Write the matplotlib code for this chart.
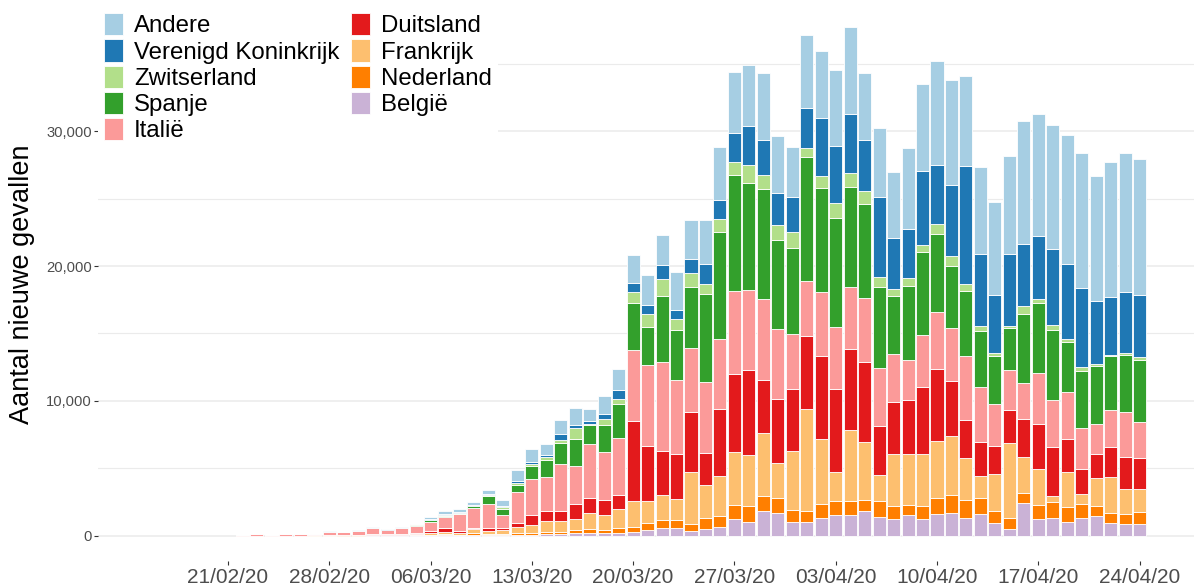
import matplotlib
matplotlib.use("Agg")
import matplotlib.pyplot as plt
import matplotlib.dates as mdates
import matplotlib.ticker as mticker
from matplotlib.patches import Patch
import numpy as np
import pandas as pd

plt.rcParams['font.family'] = ['Liberation Sans', 'DejaVu Sans']

dates = pd.date_range("2020-02-22", "2020-04-24", freq="D")

belgie = [0, 0, 0, 0, 0, 0, 0, 0, 0, 5, 5, 10, 15, 30, 50, 25, 74, 50, 50, 74, 74, 124,
          124, 223, 223, 173, 223, 272, 421, 545, 545, 347, 495, 619, 1239, 991, 1833, 1709, 1040,
          1016, 1338, 1536, 1560, 1808, 1387, 1263, 1536, 1214, 1585, 1709, 1338, 1610, 916, 495,
          2403, 1214, 1338, 1016, 1288, 1461, 916, 892, 867]
nederland = [0, 0, 0, 0, 0, 1, 1, 5, 5, 8, 5, 15, 10, 40, 74, 25, 99, 99, 74, 99, 124, 173,
             173, 198, 248, 248, 347, 396, 545, 619, 619, 520, 793, 867, 1040, 1214, 1139, 1065, 867,
             842, 991, 1040, 1016, 842, 1214, 966, 743, 966, 1189, 1288, 1313, 1164, 941, 842,
             743, 1065, 1189, 1139, 1040, 743, 743, 718, 892]
frankrijk = [0, 0, 0, 0, 2, 10, 20, 30, 30, 45, 40, 50, 100, 130, 173, 124, 297, 198, 322, 471, 570, 817,
             793, 817, 1189, 1115, 1387, 1883, 1635, 1858, 1536, 3815, 2477, 2948, 3914, 3790, 4632, 2601, 4384,
             7555, 4855, 2105, 5226, 4285, 1883, 3839, 3740, 3839, 4260, 4360, 3096, 1610, 2675, 5499,
             2650, 2650, 396, 2576, 793, 2056, 2675, 1833, 1660]
duitsland = [0, 0, 0, 0, 0, 5, 25, 5, 30, 25, 30, 40, 70, 140, 272, 198, 99, 248, 149, 272, 793, 694,
             768, 1090, 1164, 1115, 1040, 5920, 4062, 3270, 3319, 4459, 2328, 4954, 5796, 6316, 3963, 4781, 4607,
             5425, 6118, 6193, 6044, 5920, 3666, 3839, 4013, 5004, 5350, 4137, 2849, 2527, 2105, 2502,
             2849, 3369, 3616, 2452, 1808, 1783, 2229, 2353, 2328]
italie = [60, 90, 70, 100, 95, 85, 230, 200, 260, 460, 320, 420, 545, 700, 793, 1214, 1461, 1783, 966, 2304, 2650, 2527,
          3468, 2799, 3988, 3517, 4211, 5326, 5970, 6564, 5548, 4781, 5276, 5202, 6143, 5945, 5994, 5202, 4062,
          4038, 4756, 4632, 4582, 4805, 4285, 3567, 3022, 3839, 4186, 3914, 4706, 4087, 3146, 2972,
          2675, 3765, 3493, 3468, 3022, 2254, 2725, 3369, 2650]
spanje = [0, 0, 0, 2, 5, 5, 10, 10, 15, 20, 25, 30, 70, 110, 124, 50, 149, 545, 446, 545, 916, 1239,
          1536, 2031, 1412, 2006, 2551, 3468, 2824, 4954, 3666, 4533, 6564, 7951, 8620, 7902, 8174, 6539, 6391,
          9190, 7703, 8075, 7406, 6960, 6019, 4310, 5449, 6193, 5771, 4582, 4830, 4211, 3517, 3071,
          5127, 5202, 5251, 3691, 4236, 4260, 4013, 4211, 4657]
zwitserland = [0, 0, 0, 0, 1, 5, 5, 5, 10, 10, 15, 20, 20, 30, 50, 50, 50, 50, 99, 124, 198, 248,
               248, 817, 74, 446, 372, 842, 991, 1239, 867, 1040, 768, 916, 966, 1362, 1040, 1115, 1139,
               694, 941, 1090, 1040, 941, 768, 520, 594, 520, 793, 743, 570, 372, 248, 198,
               570, 297, 322, 272, 297, 173, 124, 173, 198]
verenigd_koninkrijk = [0, 0, 0, 0, 0, 2, 5, 5, 20, 5, 10, 10, 25, 40, 74, 74, 74, 99, 124, 124, 124, 149,
                       446, 248, 173, 421, 644, 669, 669, 1016, 669, 991, 1461, 1461, 2155, 2873, 2551, 2427, 2650,
                       2997, 4310, 4236, 4434, 3790, 5895, 3790, 3666, 5499, 4360, 5251, 8744, 5326, 4335, 5326,
                       4582, 4657, 5648, 5573, 5895, 4706, 4310, 4508, 4607]
andere = [5, 10, 5, 20, 25, 25, 50, 15, 50, 40, 45, 50, 40, 130, 223, 198, 198, 297, 421, 817, 966, 842,
          1040, 1239, 916, 1338, 1585, 2056, 2205, 2229, 2774, 2923, 3245, 3938, 4508, 4533, 5004, 4211, 3716,
          5375, 4954, 5623, 6440, 5004, 5127, 4855, 5970, 6465, 7728, 7852, 6663, 6415, 6886, 7258,
          9165, 9041, 9214, 9512, 10032, 9239, 9982, 10354, 10057]

series = [
    ("België", belgie, "#CAB2D6"),
    ("Nederland", nederland, "#FF7F00"),
    ("Frankrijk", frankrijk, "#FDBF6F"),
    ("Duitsland", duitsland, "#E31A1C"),
    ("Italië", italie, "#FB9A99"),
    ("Spanje", spanje, "#33A02C"),
    ("Zwitserland", zwitserland, "#B2DF8A"),
    ("Verenigd Koninkrijk", verenigd_koninkrijk, "#1F78B4"),
    ("Andere", andere, "#A6CEE3"),
]

W, H = 1194, 587
fig = plt.figure(figsize=(W / 100, H / 100), dpi=100)
ax = fig.add_axes([98 / W, 1 - 561 / H, (W - 98) / W, (561 - 1.4) / H])

bottom = np.zeros(len(dates))
for name, vals, col in series:
    v = np.array(vals, dtype=float)
    ax.bar(dates, v, bottom=bottom, width=0.9, color=col, edgecolor="white",
           linewidth=0.6, label=name, zorder=2)
    bottom += v

ymax = bottom.max()
ax.set_ylim(-0.05 * ymax, 1.05 * ymax)
x0 = mdates.date2num(pd.Timestamp("2020-02-21"))
ax.set_xlim(x0 - 8.98, x0 + 66.76)

ax.yaxis.set_major_locator(mticker.MultipleLocator(10000))
ax.yaxis.set_minor_locator(mticker.MultipleLocator(5000))
ax.yaxis.set_major_formatter(mticker.FuncFormatter(lambda v, p: f"{int(v):,}"))
ticks = pd.date_range("2020-02-21", "2020-04-24", freq="7D")
ax.set_xticks(mdates.date2num(ticks))
ax.set_xticklabels([t.strftime("%d/%m/%y") for t in ticks])

ax.grid(axis="y", which="major", color="#EBEBEB", linewidth=1.1, zorder=0)
ax.grid(axis="y", which="minor", color="#EBEBEB", linewidth=0.8, zorder=0)
ax.grid(axis="x", visible=False)
ax.set_axisbelow(True)
for s in ax.spines.values():
    s.set_visible(False)

ax.tick_params(axis="y", which="major", length=3, width=0.8, color="#333333",
               labelsize=10.6, labelcolor="#4D4D4D", pad=1.5)
ax.tick_params(axis="y", which="minor", length=0)
ax.tick_params(axis="x", which="major", length=3, width=0.8, color="#333333",
               labelsize=15, labelcolor="#4D4D4D", pad=2)

ax.set_ylabel("Aantal nieuwe gevallen", fontsize=19.5, color="black", va="center")
ax.yaxis.set_label_coords((22 - 98) / (W - 98), 0.494)

handles = [Patch(facecolor=col, edgecolor="white", linewidth=0.6, label=name)
           for name, vals, col in series[::-1]]
leg = ax.legend(handles=handles, loc="upper left", bbox_to_anchor=(98 / W, 1 - 7 / H),
                bbox_transform=fig.transFigure, ncol=2, fontsize=17.3, frameon=True,
                facecolor="white", edgecolor="none", framealpha=1, fancybox=False,
                borderpad=0.25, handlelength=0.79, handleheight=1.05, handletextpad=0.46,
                columnspacing=0.5, labelspacing=0.08, borderaxespad=0)
leg.set_zorder(5)

fig.savefig("out.png", dpi=100)
